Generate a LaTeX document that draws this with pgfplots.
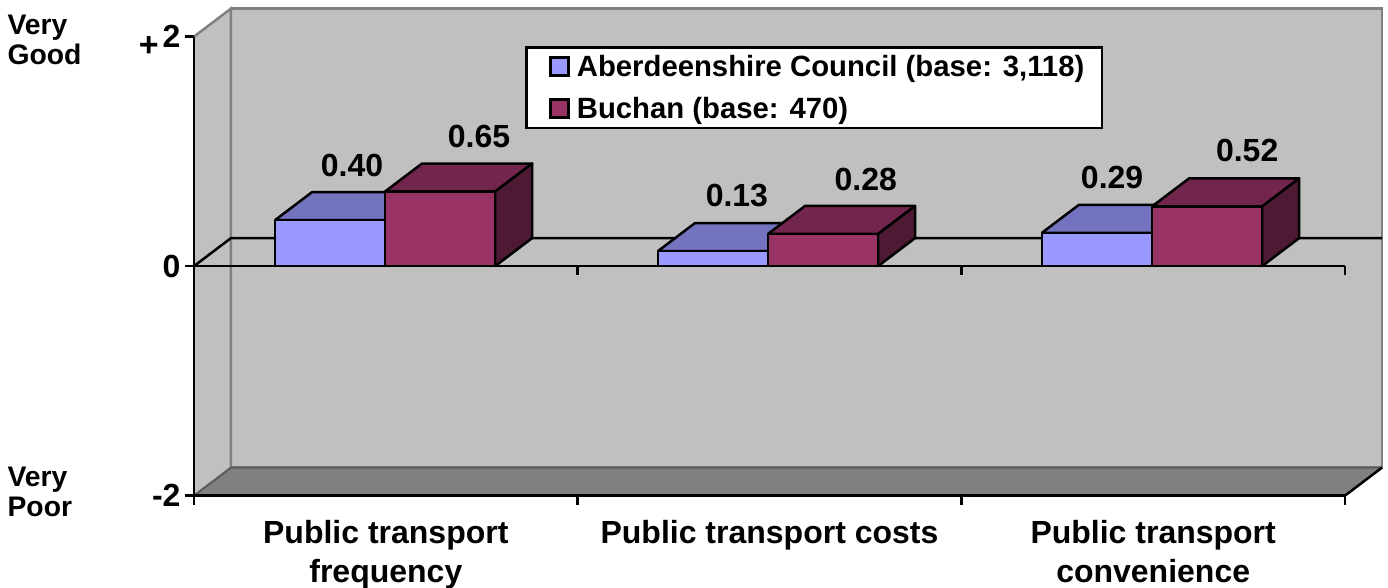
\documentclass[border=0pt]{standalone}
\usepackage{fontspec}
\setmainfont{Liberation Sans}
\usepackage{pgfplots}
\pgfplotsset{compat=1.18}
\definecolor{wall}{HTML}{C0C0C0}
\definecolor{wallline}{HTML}{808080}
\definecolor{floorc}{HTML}{808080}
\definecolor{aF}{HTML}{9999FF}
\definecolor{aT}{HTML}{7373BF}
\definecolor{aS}{HTML}{4D4D80}
\definecolor{bF}{HTML}{993366}
\definecolor{bT}{HTML}{73264D}
\definecolor{bS}{HTML}{4D1933}
% depth of the 3D projection, in data units
\def\ddx{0.0964}
\def\ddy{0.244}
\newcommand{\threedbar}[5]{%
  % #1 left x, #2 right x, #3 value, #4 front, #5 prefix
  \pgfmathsetmacro{\xa}{#1+\ddx}\pgfmathsetmacro{\xb}{#2+\ddx}\pgfmathsetmacro{\yb}{#3+\ddy}\pgfmathsetmacro{\yz}{\ddy}%
  \edef\doit{%
  \noexpand\addplot[forget plot,draw=black,line width=2.5pt,line join=round,fill=#5T] coordinates {(#1,#3)(\xa,\yb)(\xb,\yb)(#2,#3)(#1,#3)};
  \noexpand\addplot[forget plot,draw=black,line width=2.5pt,line join=round,fill=#5S] coordinates {(#2,0)(\xb,\yz)(\xb,\yb)(#2,#3)(#2,0)};
  \noexpand\addplot[forget plot,draw=black,line width=2.5pt,line join=round,fill=#4] coordinates {(#1,0)(#1,#3)(#2,#3)(#2,0)(#1,0)};
  }\doit}
\begin{document}
\begin{tikzpicture}[every node/.append style={font=\fontsize{32}{40}\selectfont\bfseries}]
\path[use as bounding box] (-194pt,-92.4pt) rectangle (1194pt,495.6pt);
\begin{axis}[
  anchor=south west, at={(0pt,0pt)},
  x=383.67pt, y=114.75pt,
  xmin=0, xmax=3, ymin=-2, ymax=2,
  clip=false,
  axis on top,
  axis x line=bottom, axis y line=left,
  axis line style={black,line width=2.5pt,-},
  tick style={black,line width=2.5pt},
  tick align=outside,
  major tick length=9pt,
  xtick={0,1,2,3}, xticklabels={},
  extra x ticks={0.5,1.5,2.5},
  extra x tick labels={Public transport\\frequency,Public transport costs,Public transport\\convenience},
  extra x tick style={major tick length=0pt, tick style={draw=none},
     tick label style={align=center,anchor=north,yshift=-21pt,font=\fontsize{32}{39}\selectfont\bfseries}},
  ytick={-2,0,2}, yticklabels={-2,0,2},
  y tick label style={font=\fontsize{32}{32}\selectfont\bfseries,xshift=-1pt},
  /pgf/number format/assume math mode=true,
  legend cell align=left,
  legend style={at={(axis cs:0.863,1.917)},anchor=north west,draw=black,line width=2.5pt,fill=white,
    inner xsep=13.5pt,inner ysep=4pt,row sep=11pt,column sep=3pt,
    nodes={font=\fontsize{29.3}{30}\selectfont\bfseries,inner sep=4pt,line width=2.5pt}},
  legend image code/.code={\path (0pt,0pt); \draw[#1,line width=2.5pt] (9.5pt,-9pt) rectangle (27.5pt,9pt);},
]
\addlegendimage{draw=black,fill=aF}
\addlegendentry{Aberdeenshire Council (base: 3,118)}
\addlegendimage{draw=black,fill=bF}
\addlegendentry{Buchan (base: 470)}

% walls
\addplot[forget plot,draw=wallline,line width=2.5pt,fill=wall] coordinates {(0.0964,-1.756)(0.0964,2.244)(3.0964,2.244)(3.0964,-1.756)(0.0964,-1.756)};
\addplot[forget plot,draw=none,fill=wall] coordinates {(0,-2)(0.0964,-1.756)(0.0964,2.244)(0,2)(0,-2)};
\addplot[forget plot,draw=wallline,line width=2.5pt] coordinates {(0,2)(0.0964,2.244)(0.0964,-1.756)};
\addplot[forget plot,draw=none,fill=floorc] coordinates {(0,-2)(0.0964,-1.756)(3.0964,-1.756)(3,-2)(0,-2)};
\addplot[forget plot,draw=wallline!70!black,line width=2pt] coordinates {(0,-2)(0.0964,-1.756)(3.0964,-1.756)};
\addplot[forget plot,draw=black,line width=2.5pt] coordinates {(3,-2)(3.0964,-1.756)};
% zero plane, back edge
\addplot[forget plot,draw=black,line width=2.5pt] coordinates {(0,0)(0.0964,0.244)(3.0964,0.244)};

% bars
\threedbar{0.211}{0.498}{0.40}{aF}{a}
\threedbar{0.498}{0.785}{0.65}{bF}{b}
\threedbar{1.209}{1.496}{0.13}{aF}{a}
\threedbar{1.496}{1.783}{0.28}{bF}{b}
\threedbar{2.210}{2.497}{0.29}{aF}{a}
\threedbar{2.497}{2.784}{0.52}{bF}{b}

% zero line with its ticks
\addplot[forget plot,draw=black,line width=2.5pt] coordinates {(0,0)(3,0)};
\addplot[forget plot,draw=black,line width=2.5pt] coordinates {(1,0)(1,-0.08)};
\addplot[forget plot,draw=black,line width=2.5pt] coordinates {(2,0)(2,-0.08)};
\addplot[forget plot,draw=black,line width=2.5pt] coordinates {(3,0)(3,-0.08)};

% value labels
\node at (axis cs:0.412,0.880) {0.40};
\node at (axis cs:0.743,1.133) {0.65};
\node at (axis cs:1.415,0.619) {0.13};
\node at (axis cs:1.751,0.758) {0.28};
\node at (axis cs:2.393,0.776) {0.29};
\node at (axis cs:2.745,1.011) {0.52};

% scale words
\node[anchor=west,align=left,font=\fontsize{28.3}{30}\selectfont\bfseries] at (axis cs:-0.495,1.97) {Very\\Good};
\node[anchor=west,align=left,font=\fontsize{28.3}{30}\selectfont\bfseries] at (axis cs:-0.495,-1.97) {Very\\Poor};
\node[font=\fontsize{34}{34}\selectfont\bfseries] at (axis cs:-0.118,1.91) {+};
\end{axis}
\end{tikzpicture}
\end{document}
